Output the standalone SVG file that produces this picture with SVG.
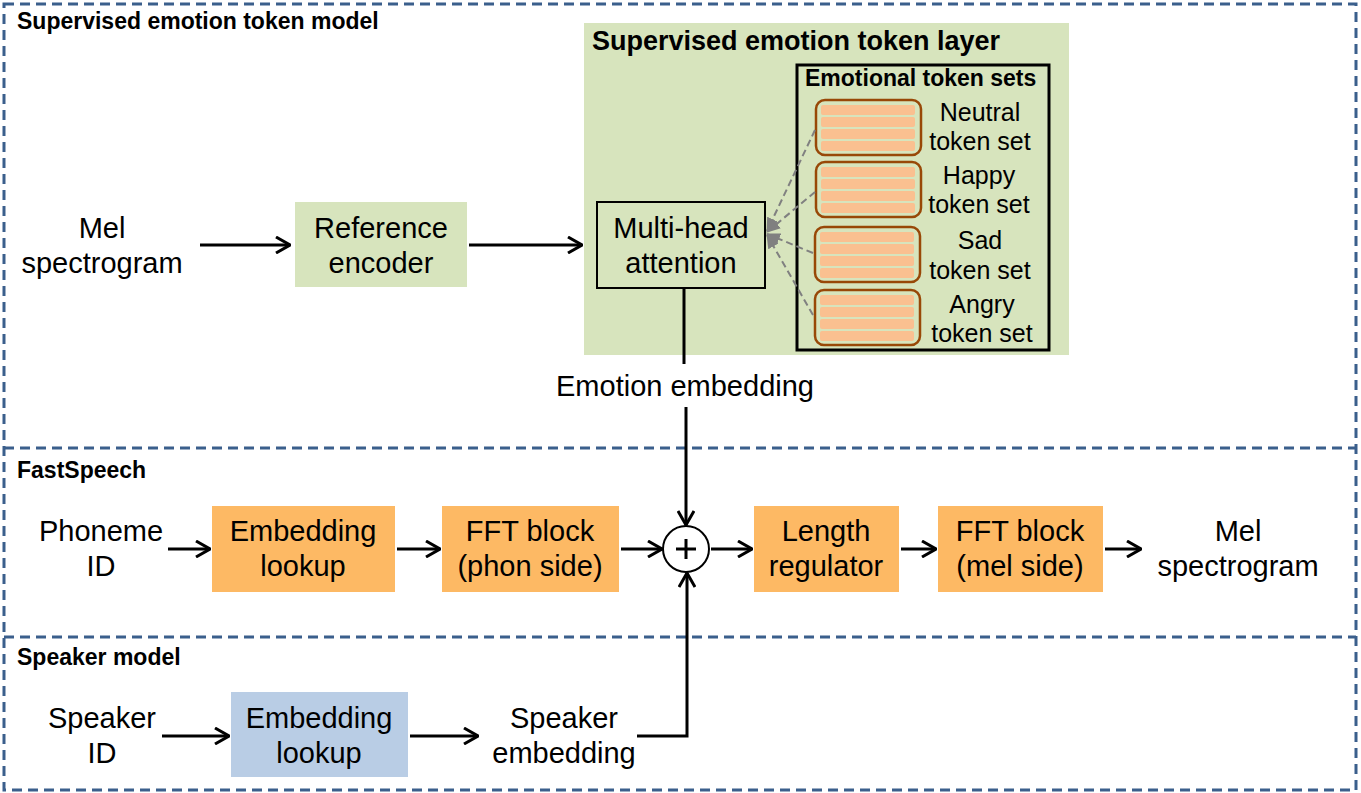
<svg xmlns="http://www.w3.org/2000/svg" width="1361" height="793" viewBox="0 0 1361 793">
<style>
text{font-family:"Liberation Sans",Arial,sans-serif;fill:#000}
.t{font-size:29px;text-anchor:middle}
.ts{font-size:25px;text-anchor:middle}
.sec{font-size:23px;font-weight:bold}
.frame{fill:none;stroke:#3B5F8C;stroke-width:3;stroke-dasharray:10 6}
.green{fill:#D7E4BD}
.orange{fill:#FDB964}
.blue{fill:#B9CDE5}
.conn{fill:none;stroke:#000;stroke-width:3;marker-end:url(#arr)}
.line{fill:none;stroke:#000;stroke-width:3}
.dash{fill:none;stroke:#808080;stroke-width:2;stroke-dasharray:7 4;marker-end:url(#garr)}
.tok{fill:#D7E4BD;stroke:#984807;stroke-width:2.5}
.bar{fill:#FAC090}
</style>
<defs>
<marker id="arr" markerUnits="userSpaceOnUse" viewBox="0 0 16 18" refX="15" refY="9" markerWidth="16" markerHeight="18" orient="auto">
<path d="M1,1 L15,9 L1,17" fill="none" stroke="#000" stroke-width="3"/>
</marker>
<marker id="garr" markerUnits="userSpaceOnUse" viewBox="0 0 14 12" refX="13" refY="6" markerWidth="14" markerHeight="12" orient="auto">
<path d="M0,0 L14,6 L0,12 Z" fill="#808080"/>
</marker>
<g id="tokbars">
<rect class="bar" x="5" y="5" width="94" height="10" rx="2"/>
<rect class="bar" x="5" y="17" width="94" height="10" rx="2"/>
<rect class="bar" x="5" y="29" width="94" height="10" rx="2"/>
<rect class="bar" x="5" y="41" width="94" height="10" rx="2"/>
</g>
</defs>

<g id="frames">
<rect class="frame" x="4" y="4" width="1352" height="786"/>
<line class="frame" x1="4" y1="448" x2="1356" y2="448"/>
<line class="frame" x1="4" y1="637" x2="1356" y2="637"/>
<text class="sec" x="17" y="29">Supervised emotion token model</text>
<text class="sec" x="17" y="478">FastSpeech</text>
<text class="sec" x="17" y="665">Speaker model</text>
</g>

<g id="layer">
<rect class="green" x="584" y="23" width="485" height="332"/>
<text x="592" y="50" style="font-size:27px;font-weight:bold">Supervised emotion token layer</text>
</g>

<g id="mel-in">
<text class="t" x="102" y="238">Mel</text>
<text class="t" x="102" y="273">spectrogram</text>
</g>

<g id="ref-encoder">
<rect class="green" x="295" y="202" width="172" height="85"/>
<text class="t" x="381" y="238">Reference</text>
<text class="t" x="381" y="273">encoder</text>
</g>

<g id="mha">
<rect x="597" y="202" width="168" height="86" fill="none" stroke="#000" stroke-width="2"/>
<text class="t" x="681" y="238">Multi-head</text>
<text class="t" x="681" y="273">attention</text>
</g>

<g id="token-sets">
<rect x="797" y="65" width="252" height="285" fill="none" stroke="#000" stroke-width="3"/>
<text x="805" y="86" style="font-size:23px;font-weight:bold">Emotional token sets</text>
</g>

<g id="neutral">
<rect class="tok" x="816" y="100" width="105" height="55" rx="9"/>
<use href="#tokbars" x="816" y="100"/>
<text class="ts" x="980" y="121">Neutral</text>
<text class="ts" x="980" y="150">token set</text>
</g>
<g id="happy">
<rect class="tok" x="816" y="162" width="105" height="55" rx="9"/>
<use href="#tokbars" x="816" y="162"/>
<text class="ts" x="979" y="184">Happy</text>
<text class="ts" x="979" y="213">token set</text>
</g>
<g id="sad">
<rect class="tok" x="815" y="227" width="105" height="55" rx="9"/>
<use href="#tokbars" x="815" y="227"/>
<text class="ts" x="980" y="249">Sad</text>
<text class="ts" x="980" y="279">token set</text>
</g>
<g id="angry">
<rect class="tok" x="815" y="290" width="105" height="55" rx="9"/>
<use href="#tokbars" x="815" y="290"/>
<text class="ts" x="982" y="313">Angry</text>
<text class="ts" x="982" y="342">token set</text>
</g>

<g id="emotion-embedding">
<text class="t" x="685" y="396">Emotion embedding</text>
</g>

<g id="phoneme-id">
<text class="t" x="101" y="541">Phoneme</text>
<text class="t" x="101" y="576">ID</text>
</g>
<g id="emb-lookup">
<rect class="orange" x="212" y="506" width="183" height="86"/>
<text class="t" x="303" y="541">Embedding</text>
<text class="t" x="303" y="576">lookup</text>
</g>
<g id="fft-phon">
<rect class="orange" x="442" y="506" width="177" height="86"/>
<text class="t" x="530" y="541">FFT block</text>
<text class="t" x="530" y="576">(phon side)</text>
</g>
<g id="sum">
<circle cx="686" cy="549" r="23" fill="#fff" stroke="#000" stroke-width="2"/>
<path d="M686,539 V559 M676,549 H696" stroke="#000" stroke-width="3"/>
</g>
<g id="length-regulator">
<rect class="orange" x="754" y="506" width="145" height="86"/>
<text class="t" x="826" y="541">Length</text>
<text class="t" x="826" y="576">regulator</text>
</g>
<g id="fft-mel">
<rect class="orange" x="938" y="506" width="165" height="86"/>
<text class="t" x="1020" y="541">FFT block</text>
<text class="t" x="1020" y="576">(mel side)</text>
</g>
<g id="mel-out">
<text class="t" x="1238" y="541">Mel</text>
<text class="t" x="1238" y="576">spectrogram</text>
</g>

<g id="speaker-id">
<text class="t" x="102" y="728">Speaker</text>
<text class="t" x="102" y="763">ID</text>
</g>
<g id="spk-lookup">
<rect class="blue" x="231" y="692" width="177" height="85"/>
<text class="t" x="319" y="728">Embedding</text>
<text class="t" x="319" y="763">lookup</text>
</g>
<g id="speaker-embedding">
<text class="t" x="564" y="728">Speaker</text>
<text class="t" x="564" y="763">embedding</text>
</g>

<g id="connectors">
<line class="conn" x1="200" y1="245" x2="290" y2="245"/>
<line class="conn" x1="469" y1="245" x2="582" y2="245"/>
<line class="dash" x1="815" y1="130" x2="767" y2="231"/>
<line class="dash" x1="815" y1="192" x2="767" y2="232"/>
<line class="dash" x1="813" y1="253" x2="767" y2="234"/>
<line class="dash" x1="813" y1="315" x2="767" y2="235"/>
<line class="line" x1="684" y1="288" x2="684" y2="364"/>
<line class="conn" x1="686" y1="407" x2="686" y2="525"/>
<line class="conn" x1="168" y1="549" x2="210" y2="549"/>
<line class="conn" x1="397" y1="549" x2="440" y2="549"/>
<line class="conn" x1="621" y1="549" x2="662" y2="549"/>
<line class="conn" x1="711" y1="549" x2="752" y2="549"/>
<line class="conn" x1="901" y1="549" x2="936" y2="549"/>
<line class="conn" x1="1105" y1="549" x2="1141" y2="549"/>
<line class="conn" x1="162" y1="736" x2="229" y2="736"/>
<line class="conn" x1="410" y1="736" x2="478" y2="736"/>
<polyline class="conn" points="637,736 687,736 687,573"/>
</g>
</svg>
